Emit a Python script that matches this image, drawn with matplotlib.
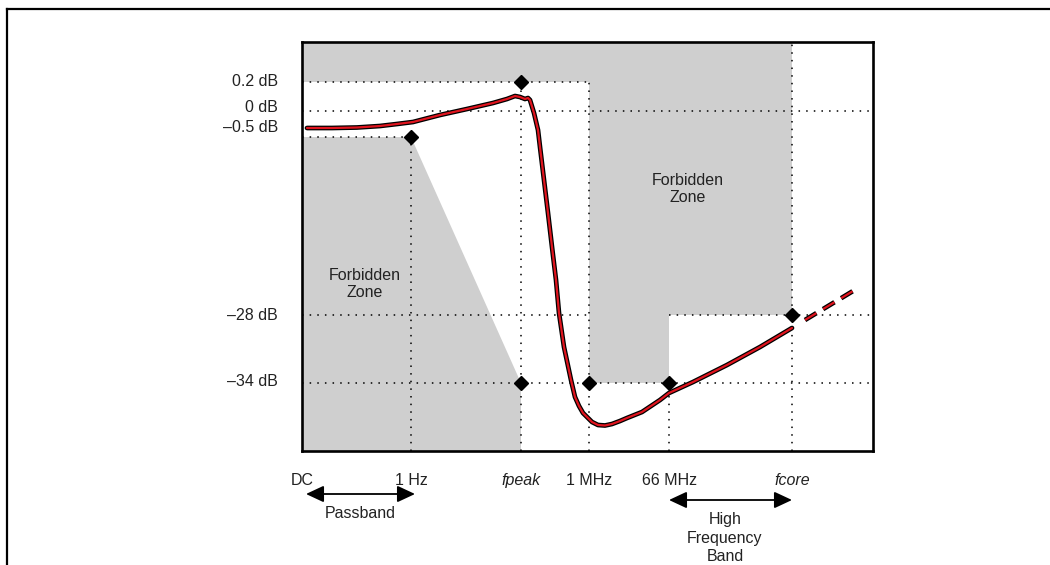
import matplotlib
matplotlib.use("Agg")
import matplotlib.pyplot as plt
import matplotlib.patheffects as pe
from matplotlib.patches import Polygon
from matplotlib.lines import Line2D

plt.rcParams['font.family'] = ['Liberation Sans', 'DejaVu Sans']

# frequency markers (schematic axis, not to scale)
x_ticks = [0, 109, 219, 287, 367, 490]
x_labels = ['DC', '1 Hz', 'fpeak', '1 MHz', '66 MHz', 'fcore']
x_italic = [False, False, True, False, False, True]

# gain levels (schematic axis, not to scale)
y_levels = [369, 340, 314, 136, 68]
y_labels = ['0.2 dB', '0 dB', '\u20130.5 dB', '\u201328 dB', '\u201334 dB']
y_label_pos = [369, 344, 323, 136, 69]

# response curve
curve_x = [5, 30, 55, 78, 95, 111, 138, 165, 191, 205, 213, 218, 223, 226, 228,
           232, 236, 238, 242, 246, 250, 254, 257, 262, 269, 273, 277, 281, 286, 290,
           296, 303, 310, 318, 325, 340, 358, 367, 391, 425, 458, 490]
curve_y = [323, 323, 323.5, 325, 327, 329, 336, 342, 348, 352, 355, 354, 352, 353, 351,
           338, 321, 304, 271, 238, 204, 171, 138, 104, 71, 54, 45, 38, 33, 29,
           26, 25.5, 27, 30, 33, 39, 51, 58, 69, 86, 104, 123]
ext_x = [503, 556]
ext_y = [131, 163]

# spec corners (index into x_ticks, y_levels)
spec_pts = [(1, 2), (2, 0), (2, 4), (3, 4), (4, 4), (5, 3)]

fig = plt.figure(figsize=(10.5, 5.65), dpi=100)
ax = fig.add_axes([302/1050, 1-451/565, 571/1050, 409/565])
ax.set_xlim(0, 571)
ax.set_ylim(0, 409)
ymax = 409
xmax = 571
gray = '#cfcfcf'

# forbidden zones
top_zone = [(x_ticks[0], ymax), (x_ticks[5], ymax), (x_ticks[5], y_levels[3]),
            (x_ticks[4], y_levels[3]), (x_ticks[4], y_levels[4]), (x_ticks[3], y_levels[4]),
            (x_ticks[3], y_levels[0]), (x_ticks[0], y_levels[0])]
low_zone = [(x_ticks[0], y_levels[2]), (x_ticks[1], y_levels[2]), (x_ticks[2], y_levels[4]),
            (x_ticks[2], 0), (x_ticks[0], 0)]
for poly in (top_zone, low_zone):
    ax.add_patch(Polygon(poly, closed=True, facecolor=gray, edgecolor='none', zorder=1))

# dotted guide lines
dot = dict(color='black', lw=1.1, linestyle=(0, (1, 4)), zorder=2)
ax.plot([x_ticks[0], x_ticks[3]], [y_levels[0]] * 2, **dot)
ax.plot([x_ticks[0], xmax], [y_levels[1]] * 2, **dot)
ax.plot([x_ticks[0], x_ticks[1]], [y_levels[2]] * 2, **dot)
ax.plot([x_ticks[0], x_ticks[3]], [y_levels[3]] * 2, **dot)
ax.plot([x_ticks[4], xmax], [y_levels[3]] * 2, **dot)
ax.plot([x_ticks[0], xmax], [y_levels[4]] * 2, **dot)
ax.plot([x_ticks[1]] * 2, [0, y_levels[2]], **dot)
ax.plot([x_ticks[2]] * 2, [0, y_levels[0]], **dot)
ax.plot([x_ticks[3]] * 2, [0, y_levels[0]], **dot)
ax.plot([x_ticks[4]] * 2, [0, y_levels[4]], **dot)
ax.plot([x_ticks[5]] * 2, [0, ymax], **dot)

# response curve: red with black outline
outline = [pe.Stroke(linewidth=3.4, foreground='black'), pe.Normal()]
ax.plot(curve_x, curve_y, color='#e0141e', lw=1.6, zorder=4,
        solid_capstyle='round', solid_joinstyle='round', path_effects=outline)
ax.plot(ext_x, ext_y, color='#e0141e', lw=1.6, zorder=4, linestyle=(0, (6, 3.5)),
        path_effects=outline)

# spec points
ax.plot([x_ticks[i] for i, j in spec_pts], [y_levels[j] for i, j in spec_pts],
        linestyle='none', marker='D', ms=7.5, color='black', zorder=5)

# zone labels
ax.text(63, 167, 'Forbidden\nZone', ha='center', va='center', fontsize=11.5,
        color='#222222', zorder=6)
ax.text(386, 262, 'Forbidden\nZone', ha='center', va='center', fontsize=11.5,
        color='#222222', zorder=6)

# axis labels
ax.set_xticks(x_ticks, x_labels)
ax.tick_params(axis='x', length=0, pad=16, labelsize=11.5, labelcolor='#222222')
for lab, it in zip(ax.get_xticklabels(), x_italic):
    if it:
        lab.set_style('italic')
ax.set_yticks([])
for lab, yp in zip(y_labels, y_label_pos):
    ax.text(-24, yp, lab, ha='right', va='center', fontsize=11.5, color='#222222',
            clip_on=False)

for s in ax.spines.values():
    s.set_linewidth(1.9)
    s.set_zorder(7)

# band arrows
arr = dict(arrowstyle='<|-|>,head_length=0.9,head_width=0.42', color='black', lw=1.3,
           shrinkA=0, shrinkB=0, mutation_scale=12)
ax.annotate('', xy=(x_ticks[0] + 4, -43), xytext=(x_ticks[1] + 4, -43),
            arrowprops=arr, annotation_clip=False)
ax.text(58, -63, 'Passband', ha='center', va='center', fontsize=11.5, color='#222222',
        clip_on=False)
ax.annotate('', xy=(x_ticks[4], -49), xytext=(x_ticks[5], -49),
            arrowprops=arr, annotation_clip=False)
ax.text(423, -87, 'High\nFrequency\nBand', ha='center', va='center', fontsize=11.5,
        color='#222222', linespacing=1.3, clip_on=False)

# outer frame (left and top edges)
fig.add_artist(Line2D([7/1050, 7/1050], [0, 1-9/565], color='black', lw=1.6,
                      transform=fig.transFigure))
fig.add_artist(Line2D([7/1050, 1], [1-9/565, 1-9/565], color='black', lw=1.6,
                      transform=fig.transFigure))

fig.savefig('out.png', dpi=100)
